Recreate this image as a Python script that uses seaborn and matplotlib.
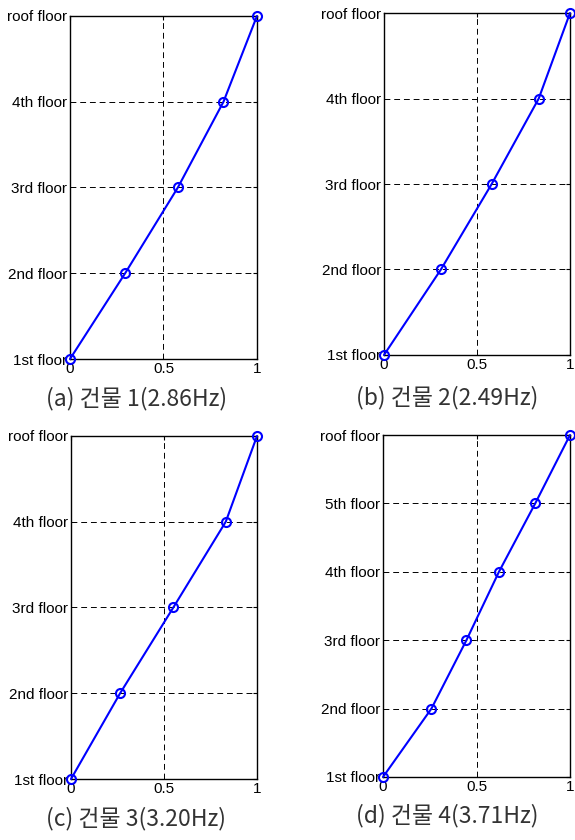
import matplotlib
matplotlib.use('Agg')
import matplotlib.pyplot as plt
import seaborn as sns

# floor labels
floors_5story = ['1st floor', '2nd floor', '3rd floor', '4th floor', 'roof floor']
floors_6story = ['1st floor', '2nd floor', '3rd floor', '4th floor', '5th floor', 'roof floor']

# normalized mode shape values
mode_a = [0.0, 0.295, 0.577, 0.821, 1.0]
mode_b = [0.0, 0.306, 0.579, 0.832, 1.0]
mode_c = [0.0, 0.264, 0.550, 0.832, 1.0]
mode_d = [0.0, 0.259, 0.446, 0.620, 0.814, 1.0]

captions = ['(a) 건물 1(2.86Hz)', '(b) 건물 2(2.49Hz)',
            '(c) 건물 3(3.20Hz)', '(d) 건물 4(3.71Hz)']
x_ticks = [0, 0.5, 1]
x_ticklabels = ['0', '0.5', '1']

sns.set_style('white')
plt.rcParams['font.family'] = ['Liberation Sans', 'DejaVu Sans']

fig = plt.figure(figsize=(5.75, 8.4), dpi=100)

# [left, bottom, width, height] for each panel
boxes = [
    [0.1217, 0.5726, 0.3252, 0.4084],
    [0.6678, 0.5774, 0.3235, 0.4071],
    [0.1235, 0.0726, 0.3235, 0.4084],
    [0.6661, 0.0750, 0.3252, 0.4071],
]
modes = [mode_a, mode_b, mode_c, mode_d]
floor_sets = [floors_5story, floors_5story, floors_5story, floors_6story]
caption_pos = [(0.237, 0.525), (0.778, 0.527), (0.237, 0.025), (0.778, 0.029)]

for box, mode, floors, cap, cpos in zip(boxes, modes, floor_sets, captions, caption_pos):
    ax = fig.add_axes(box)
    levels = list(range(len(floors)))
    sns.lineplot(x=mode, y=levels, ax=ax, sort=False, color='#0000ff',
                 linewidth=1.5, marker='o', markersize=6.5,
                 markerfacecolor='none', markeredgecolor='#0000ff',
                 markeredgewidth=1.5, clip_on=False, zorder=5)
    ax.set_xlim(0, 1)
    ax.set_ylim(0, len(floors) - 1)
    ax.set_xticks(x_ticks)
    ax.set_xticklabels(x_ticklabels)
    ax.set_yticks(levels)
    ax.set_yticklabels(floors)
    ax.grid(True, color='black', linestyle=(0, (6, 4)), linewidth=0.7)
    ax.tick_params(axis='both', direction='in', length=3, labelsize=11,
                   pad=2, top=True, right=True, colors='black')
    for s in ax.spines.values():
        s.set_visible(True)
        s.set_color('black')
        s.set_linewidth(1.0)
    fig.text(cpos[0], cpos[1], cap, ha='center', va='center', fontsize=16.5,
             fontweight='light', color='#333333',
             family=['Noto Sans CJK KR', 'DejaVu Sans'])

fig.savefig('out.png', dpi=100)
